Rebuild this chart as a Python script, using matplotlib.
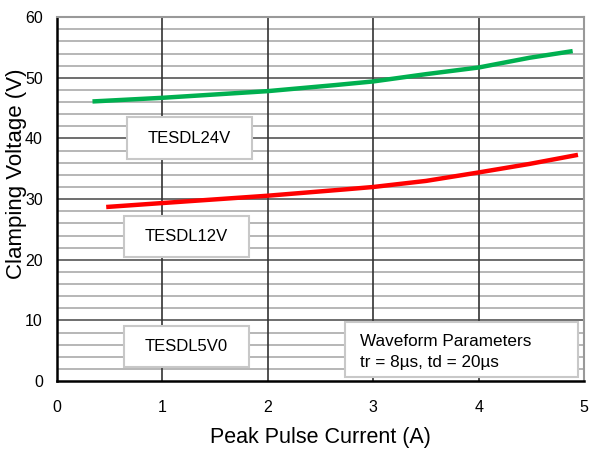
import matplotlib.pyplot as plt
from matplotlib.patches import Rectangle

plt.rcParams['font.family'] = ['Liberation Sans', 'DejaVu Sans']

# values
i_24v = [0.34, 1.0, 2.0, 2.64, 3.0, 3.5, 4.0, 4.48, 4.89]
v_24v = [46.1, 46.7, 47.8, 48.8, 49.4, 50.6, 51.7, 53.3, 54.4]

i_12v = [0.47, 1.0, 2.0, 2.73, 3.0, 3.5, 4.0, 4.48, 4.94]
v_12v = [28.7, 29.35, 30.56, 31.6, 32.0, 33.0, 34.4, 35.8, 37.3]

# label boxes: (text, x0, x1, y0, y1)
boxes = [("TESDL24V", 0.67, 1.85, 36.6, 43.5),
         ("TESDL12V", 0.64, 1.82, 20.4, 27.2),
         ("TESDL5V0", 0.64, 1.82, 2.3, 9.1)]

fig = plt.figure(figsize=(5.92, 4.51), dpi=100)
ax = fig.add_axes([0.0956, 0.155, 0.8914, 0.807])

ax.set_xlim(0, 5)
ax.set_ylim(0, 60)

# grid: minor every 2 V, major every 10 V, verticals every 1 A
for y in range(2, 60, 2):
    if y % 10 == 0:
        ax.axhline(y, color='#555555', lw=1.2, zorder=1)
    else:
        ax.axhline(y, color='#aaaaaa', lw=1.2, zorder=1)
for x in range(1, 5):
    ax.axvline(x, color='#333333', lw=1.2, zorder=1)

ax.plot(i_24v, v_24v, color='#00b050', lw=3.2, zorder=3, solid_capstyle='butt')
ax.plot(i_12v, v_12v, color='#ff0000', lw=3.2, zorder=3, solid_capstyle='butt')

for txt, x0, x1, y0, y1 in boxes:
    ax.add_patch(Rectangle((x0, y0), x1 - x0, y1 - y0, facecolor='white',
                           edgecolor='#c8c8c8', lw=1.5, zorder=4))
    ax.text((x0 + x1) / 2, (y0 + y1) / 2, txt, ha='center', va='center',
            fontsize=12, zorder=5)

ax.add_patch(Rectangle((2.73, 0.66), 4.94 - 2.73, 9.7 - 0.66, facecolor='white',
                       edgecolor='#c8c8c8', lw=1.5, zorder=4))
ax.text(2.87, 6.5, "Waveform Parameters", ha='left', va='center', fontsize=12.3, zorder=5)
ax.text(2.87, 3.1, "tr = 8µs, td = 20µs", ha='left', va='center', fontsize=12.3, zorder=5)

ax.set_xticks([0, 1, 2, 3, 4, 5])
ax.set_yticks([0, 10, 20, 30, 40, 50, 60])
ax.tick_params(length=0, labelsize=11.5, colors='black')
ax.tick_params(axis='x', pad=13.5)
ax.tick_params(axis='y', pad=9.8)

for s in ['left', 'bottom']:
    ax.spines[s].set_color('black')
    ax.spines[s].set_linewidth(1.8)
for s in ['top', 'right']:
    ax.spines[s].set_color('#999999')
    ax.spines[s].set_linewidth(1.5)

ax.set_xlabel("Peak Pulse Current (A)", fontsize=15.5)
ax.set_ylabel("Clamping Voltage (V)", fontsize=16)
ax.xaxis.set_label_coords(0.5, -0.127)
ax.yaxis.set_label_coords(-0.056, 0.571)

fig.savefig("out.png", dpi=100)
